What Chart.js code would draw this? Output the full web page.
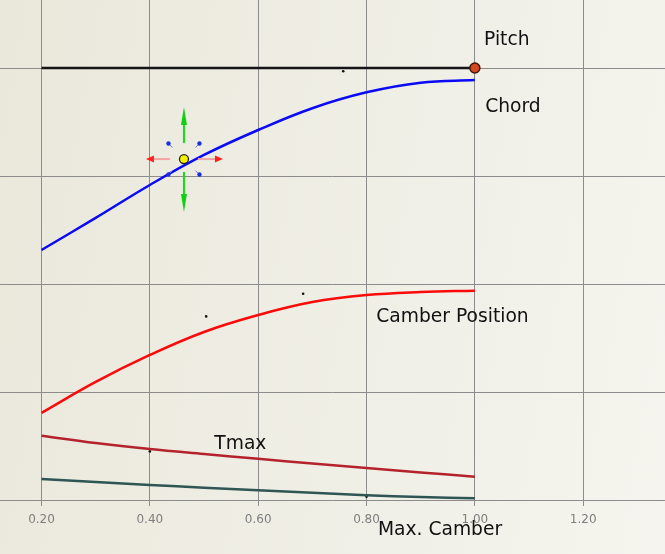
<!DOCTYPE html>
<html>
<head>
<meta charset="utf-8">
<script src="https://cdn.jsdelivr.net/npm/chart.js@4/dist/chart.umd.min.js"></script>
<style>
  html, body { margin: 0; padding: 0; }
  #wrap {
    width: 665px; height: 554px;
    background: linear-gradient(100deg, #eae8db 0%, #f0efe6 55%, #f5f4ee 100%);
  }
</style>
</head>
<body>
<div id="wrap"><canvas id="chart"></canvas></div>
<script>
// x positions (Max. Camber)
const xValues = [0.2, 0.3, 0.4, 0.5, 0.6, 0.7, 0.8, 0.9, 1.0];
const xTicks = [0.2, 0.4, 0.6, 0.8, 1.0, 1.2];
const yTicks = [0, 1, 2, 3, 4];

// curves (plot units)
const pitch = [4, 4, 4, 4, 4, 4, 4, 4, 4];
const chord = [2.315, 2.612, 2.917, 3.195, 3.426, 3.628, 3.775, 3.864, 3.889];
const camberPos = [0.806, 1.093, 1.343, 1.556, 1.713, 1.833, 1.898, 1.926, 1.938];
const tmax = [0.596, 0.528, 0.472, 0.426, 0.382, 0.338, 0.296, 0.255, 0.216];
const tmin = [0.194, 0.166, 0.139, 0.114, 0.091, 0.068, 0.045, 0.028, 0.016];

// loose control points
const dotsX = [0.757, 0.504, 0.683, 0.40, 0.80];
const dotsY = [3.97, 1.70, 1.91, 0.45, 0.03];

// selected handle
const handleX = 0.463;
const handleY = 3.157;

// curve labels
const labelTexts = ['Pitch', 'Chord', 'Camber Position', 'Tmax'];
const labelAt = [[1.017, 4.213], [1.019, 3.593], [0.818, 1.648], [0.519, 0.472]];
const axisTitle = 'Max. Camber';

function toPoints(ys) {
    return ys.map((y, i) => ({ x: xValues[i], y: y }));
}

function lineSet(label, ys, color) {
    return {
        label: label,
        data: toPoints(ys),
        borderColor: color,
        borderWidth: 2.5,
        pointRadius: 0,
        tension: 0.4,
        fill: false
    };
}

const pitchSet = lineSet('Pitch', pitch, '#151515');
pitchSet.pointRadius = ctx => ctx.dataIndex === pitch.length - 1 ? 5 : 0;
pitchSet.pointBackgroundColor = '#d8481c';
pitchSet.pointBorderColor = '#3a1a0a';
pitchSet.pointBorderWidth = 1.5;

const overlay = {
    id: 'overlay',
    afterDatasetsDraw(chart) {
        const c = chart.ctx;
        const xs = chart.scales.x, ys = chart.scales.y;

        c.save();
        c.font = '18.7px "DejaVu Sans"';
        c.fillStyle = '#111';
        c.textBaseline = 'alphabetic';
        labelTexts.forEach((t, i) => {
            c.fillText(t, xs.getPixelForValue(labelAt[i][0]), ys.getPixelForValue(labelAt[i][1]));
        });
        c.fillText(axisTitle, xs.getPixelForValue(0.821), ys.bottom + 35);

        // handle with drag arrows
        const hx = xs.getPixelForValue(handleX);
        const hy = ys.getPixelForValue(handleY);

        function arrow(x1, y1, x2, y2, shaft, head, w, len) {
            const a = Math.atan2(y2 - y1, x2 - x1);
            const bx = x2 - Math.cos(a) * len, by = y2 - Math.sin(a) * len;
            c.strokeStyle = shaft;
            c.lineWidth = 2;
            c.beginPath();
            c.moveTo(x1, y1);
            c.lineTo(bx, by);
            c.stroke();
            c.fillStyle = head;
            c.beginPath();
            c.moveTo(x2, y2);
            c.lineTo(bx + Math.sin(a) * w, by - Math.cos(a) * w);
            c.lineTo(bx - Math.sin(a) * w, by + Math.cos(a) * w);
            c.closePath();
            c.fill();
        }
        arrow(hx, hy - 16, hx, hy - 52, '#10e010', '#10d010', 3, 18);
        arrow(hx, hy + 13, hx, hy + 53, '#10e010', '#10d010', 3, 18);
        arrow(hx - 14, hy, hx - 38, hy, '#f4a4a4', '#ff2020', 3.5, 8);
        arrow(hx + 14, hy, hx + 39, hy, '#f4a4a4', '#ff2020', 3.5, 8);

        [[-1, -1], [1, -1], [1, 1], [-1, 1]].forEach(d => {
            const px = hx + d[0] * 15.5, py = hy + d[1] * 15.5;
            c.strokeStyle = '#6a7ae8';
            c.lineWidth = 1;
            c.beginPath();
            c.moveTo(px, py);
            c.lineTo(px - d[0] * 4, py - d[1] * 4);
            c.stroke();
            c.fillStyle = '#1a2ee0';
            c.beginPath();
            c.arc(px, py, 2.2, 0, Math.PI * 2);
            c.fill();
        });

        c.fillStyle = '#f4f000';
        c.strokeStyle = '#222';
        c.lineWidth = 1.3;
        c.beginPath();
        c.arc(hx, hy, 4.5, 0, Math.PI * 2);
        c.fill();
        c.stroke();
        c.restore();
    }
};

new Chart(document.getElementById('chart'), {
    type: 'line',
    data: {
        datasets: [
            pitchSet,
            lineSet('Chord', chord, '#0a0af5'),
            lineSet('Camber Position', camberPos, '#fa0a0a'),
            lineSet('Tmax', tmax, '#b4232c'),
            lineSet('Tmin', tmin, '#2f5555'),
            {
                label: 'points',
                type: 'scatter',
                data: dotsX.map((x, i) => ({ x: x, y: dotsY[i] })),
                pointRadius: 1.3,
                pointBackgroundColor: '#111',
                pointBorderWidth: 0
            }
        ]
    },
    options: {
        responsive: true,
        maintainAspectRatio: false,
        animation: false,
        layout: { padding: 0, autoPadding: false },
        plugins: {
            legend: { display: false },
            tooltip: { enabled: false }
        },
        scales: {
            x: {
                type: 'linear',
                min: 0.1234,
                max: 1.351,
                afterBuildTicks: axis => { axis.ticks = xTicks.map(v => ({ value: v })); },
                afterFit: axis => { axis.height = 54; },
                border: { display: false },
                grid: { color: '#8c8c8c', lineWidth: 1, tickLength: 6 },
                ticks: {
                    color: '#7e7e7e',
                    padding: 7,
                    font: { family: 'DejaVu Sans', size: 12 },
                    maxRotation: 0,
                    callback: v => v.toFixed(2)
                }
            },
            y: {
                type: 'linear',
                min: 0,
                max: 4.63,
                afterBuildTicks: axis => { axis.ticks = yTicks.map(v => ({ value: v })); },
                afterFit: axis => { axis.width = 0; },
                border: { display: false },
                grid: { color: '#8c8c8c', lineWidth: 1, drawTicks: false },
                ticks: { display: false }
            }
        }
    },
    plugins: [overlay]
});
</script>
</body>
</html>
